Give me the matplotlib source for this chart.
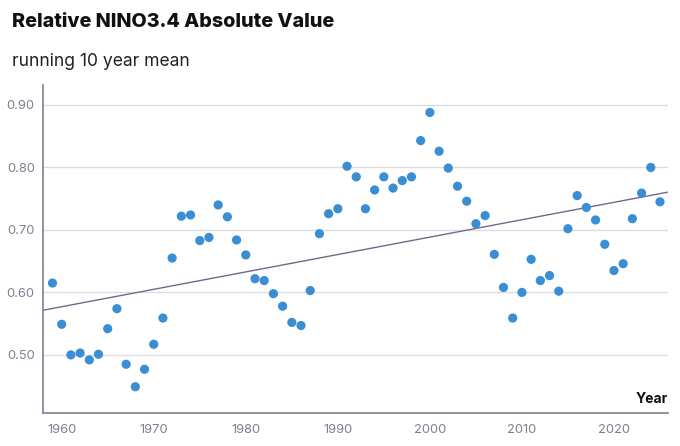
import numpy as np
import matplotlib
matplotlib.use("Agg")
import matplotlib.pyplot as plt

years = list(range(1959, 2026))
values = [
    0.615, 0.549, 0.500, 0.503, 0.492, 0.501, 0.542, 0.574, 0.485, 0.449,
    0.477, 0.517, 0.559, 0.655, 0.722, 0.724, 0.683, 0.688, 0.740, 0.721,
    0.684, 0.660, 0.622, 0.619, 0.598, 0.578, 0.552, 0.547, 0.603, 0.694,
    0.726, 0.734, 0.802, 0.785, 0.734, 0.764, 0.785, 0.767, 0.779, 0.785,
    0.843, 0.888, 0.826, 0.799, 0.770, 0.746, 0.710, 0.723, 0.661, 0.608,
    0.559, 0.600, 0.653, 0.619, 0.627, 0.602, 0.702, 0.755, 0.736, 0.716,
    0.677, 0.635, 0.646, 0.718, 0.759, 0.800, 0.745,
]
yticks = [0.5, 0.6, 0.7, 0.8, 0.9]
xticks = [1960, 1970, 1980, 1990, 2000, 2010, 2020]

plt.rcParams['font.family'] = ['Inter', 'DejaVu Sans']

fig = plt.figure(figsize=(6.8, 4.46), dpi=100)
ax = fig.add_axes([43/680, 1-413/446, (668-43)/680, (413-85)/446])

x = np.array(years, dtype=float)
y = np.array(values)
slope, intercept = np.polyfit(x, y, 1)
xl = np.array([1957.97, 2025.87])
ax.plot(xl, slope*xl + intercept, color='#6f6b86', lw=1.0, zorder=2)
ax.scatter(x, y, s=44, color='#3a8fd4', edgecolors='none', zorder=3)

ax.set_xlim(1957.97, 2025.87)
ax.set_ylim(0.407, 0.932)
ax.set_yticks(yticks)
ax.set_yticklabels([f"{v:.2f}" for v in yticks])
ax.set_xticks(xticks)
ax.set_xticklabels([str(v) for v in xticks])
ax.grid(axis='y', color='#dcdde3', lw=1.0)
ax.set_axisbelow(True)
for s in ['top', 'right']:
    ax.spines[s].set_visible(False)
for s in ['left', 'bottom']:
    ax.spines[s].set_color('#7b8190')
    ax.spines[s].set_linewidth(1.2)
ax.tick_params(length=0, labelsize=9.3, colors='#7b8190', pad=6)
ax.tick_params(axis='x', pad=8)

ax.text(1.0, 0.02, 'Year', transform=ax.transAxes, ha='right', va='bottom',
        fontsize=10, fontweight='bold', color='#111111')

fig.text(12/680, 1-22/446, 'Relative NINO3.4 Absolute Value', ha='left', va='center',
         fontsize=14.2, fontweight='heavy', color='#111111')
fig.text(12/680, 1-61/446, 'running 10 year mean', ha='left', va='center',
         fontsize=12.6, color='#222222')

fig.savefig('out.png', dpi=100)
